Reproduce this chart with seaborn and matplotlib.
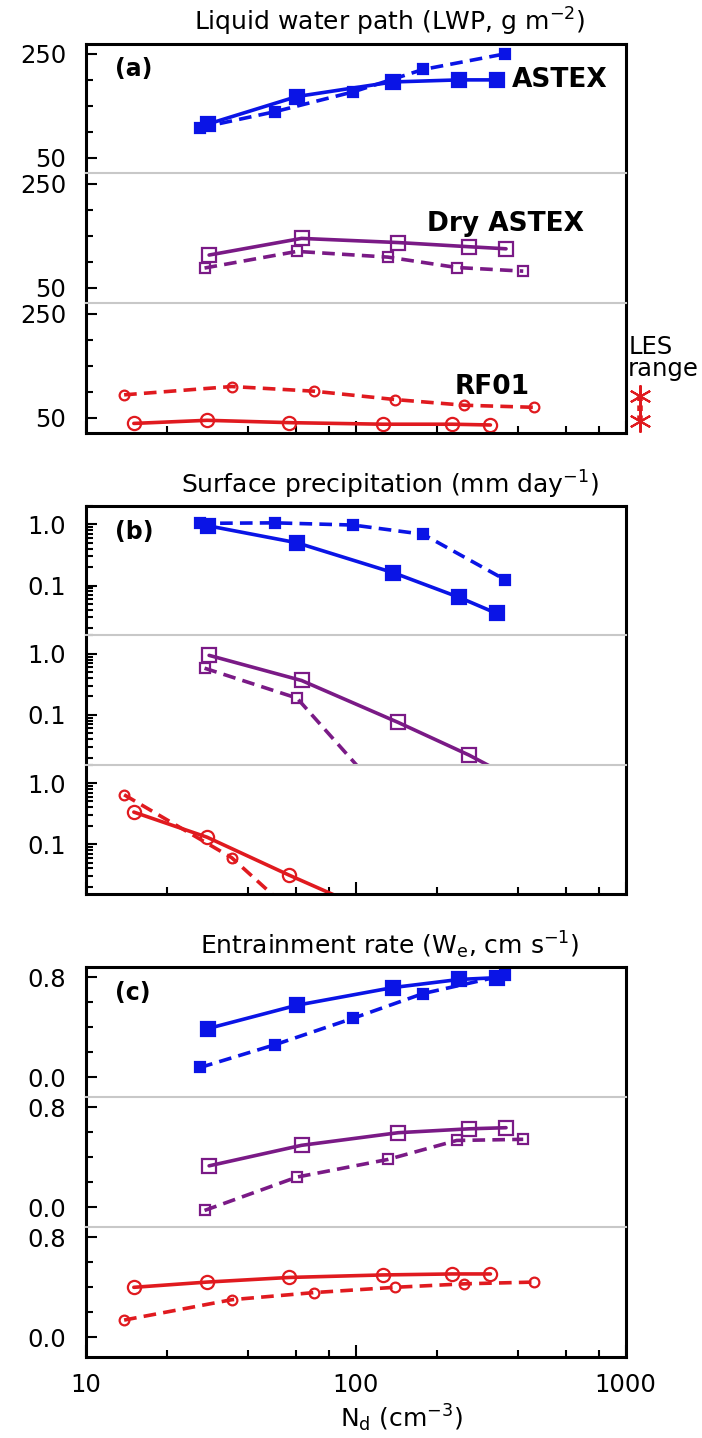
import numpy as np
import seaborn as sns
import matplotlib.pyplot as plt
from matplotlib.ticker import LogLocator, NullFormatter

sns.set_style("white")
plt.rcParams['font.family'] = ['DejaVu Sans']
plt.rcParams.update({'text.color': 'black', 'axes.labelcolor': 'black',
                     'xtick.color': 'black', 'ytick.color': 'black'})

# droplet number (cm-3) for each run set, solid = one model, dashed = the other
astex_nd = [28.4, 60.7, 137.5, 242, 333]
astex_nd_d = [26.6, 50.5, 98.1, 177.8, 357.5]
dry_nd = [28.7, 63.1, 144, 263, 361]
dry_nd_d = [27.6, 60.7, 131.8, 237, 418]
rf01_nd = [15.1, 28.2, 56.9, 125.9, 228, 316]
rf01_nd_d = [13.9, 34.8, 70.3, 139.6, 253, 459]

# (a) LWP, g m-2
astex_lwp = [115, 168, 196, 200, 200]
astex_lwp_d = [108, 139, 177, 220, 250]
dry_lwp = [113, 145, 137, 129, 125]
dry_lwp_d = [88, 120, 109, 89, 82]
rf01_lwp = [39, 45, 40.5, 37.5, 37.5, 36]
rf01_lwp_d = [94, 110, 101, 85, 74, 70]
les_nd = 1130
les_lwp = [43, 92]

# (b) surface precipitation, mm/day
astex_pr = [0.95, 0.50, 0.163, 0.064, 0.035]
astex_pr_d = [1.04, 1.06, 0.975, 0.69, 0.125]
dry_pr = [0.94, 0.365, 0.075, 0.022, 0.0105]
dry_pr_d = [0.58, 0.188, 0.004, 0.0015, 0.0008]
rf01_pr = [0.335, 0.13, 0.031, 0.0066, 0.002, 0.001]
rf01_pr_d = [0.644, 0.06, 0.0036, 0.001, 0.0005, 0.0003]

# (c) entrainment rate, cm/s
astex_we = [0.39, 0.577, 0.718, 0.783, 0.797]
astex_we_d = [0.079, 0.262, 0.473, 0.67, 0.817]
dry_we = [0.332, 0.496, 0.597, 0.628, 0.637]
dry_we_d = [-0.025, 0.242, 0.383, 0.535, 0.544]
rf01_we = [0.40, 0.442, 0.479, 0.499, 0.507, 0.507]
rf01_we_d = [0.138, 0.301, 0.358, 0.40, 0.428, 0.442]

blue, purple, red = '#0a14e6', '#7a1a86', '#e01a1f'
sep = '#c8c8c8'

W, H = 702, 1438
fig = plt.figure(figsize=(W / 100, H / 100), dpi=100)
left, right = 85.5, 625.5


def strip_axes(top, bottom):
    h = (bottom - top) / 3
    axs = []
    for i in range(3):
        t = top + i * h
        axs.append(fig.add_axes([left / W, 1 - (t + h) / H, (right - left) / W, h / H]))
    return axs


def draw(ax, nd, vals, color, marker, size, filled, dashed):
    sns.lineplot(x=nd, y=vals, ax=ax, color=color, marker=marker, markersize=size,
                 markerfacecolor=color if filled else 'none', markeredgecolor=color,
                 markeredgewidth=1.6, linewidth=2.6,
                 linestyle=(0, (3.5, 2)) if dashed else '-', sort=False, estimator=None)


def style(axs, ylim, yticks, ylabels, yminor=None, log=False, xlabels=False):
    for i, ax in enumerate(axs):
        ax.set_xscale('log')
        ax.set_xlim(10, 1000)
        if log:
            ax.set_yscale('log')
        ax.set_ylim(*ylim)
        ax.set_yticks(yticks, ylabels)
        if log:
            ax.yaxis.set_minor_locator(LogLocator(subs=np.arange(2, 10)))
            ax.yaxis.set_minor_formatter(NullFormatter())
        else:
            ax.set_yticks(yminor, minor=True)
        ax.set_xlabel('')
        ax.set_ylabel('')
        ax.tick_params(axis='y', which='both', direction='in', left=True, right=False,
                       labelsize=17.5, pad=14, width=1.5)
        ax.tick_params(axis='y', which='major', length=8)
        ax.tick_params(axis='y', which='minor', length=5)
        for s in ax.spines.values():
            s.set_color('black')
            s.set_linewidth(2.2)
        if i > 0:
            ax.spines['top'].set_color(sep)
            ax.spines['top'].set_linewidth(1.5)
        if i < 2:
            ax.spines['bottom'].set_visible(False)
            ax.tick_params(axis='x', which='both', bottom=False, top=False, labelbottom=False)
        else:
            ax.set_xticks([10, 100, 1000], ['10', '100', '1000'] if xlabels else ['', '', ''])
            ax.set_xticks([20, 40, 60, 80, 200, 400, 600, 800], minor=True)
            ax.xaxis.set_minor_formatter(NullFormatter())
            ax.tick_params(axis='x', which='both', direction='in', bottom=True, top=False,
                           labelsize=17.5, pad=12, width=1.5)
            ax.tick_params(axis='x', which='major', length=9)
            ax.tick_params(axis='x', which='minor', length=5)


def panel(axs, ydata, tag, title):
    sets = [(astex_nd, astex_nd_d, blue, 's', True),
            (dry_nd, dry_nd_d, purple, 's', False),
            (rf01_nd, rf01_nd_d, red, 'o', False)]
    for ax, (nd, nd_d, c, m, filled), (v, v_d) in zip(axs, sets, ydata):
        draw(ax, nd_d, v_d, c, m, 7, filled, True)
        draw(ax, nd, v, c, m, 10 if filled else 9.5, filled, False)
    axs[0].text(0.055, 0.8, tag, transform=axs[0].transAxes, fontsize=17,
                fontweight='bold', va='center', ha='left')
    axs[0].set_title(title, x=0.564, pad=9, fontsize=18)


# (a) liquid water path
ax_a = strip_axes(43.5, 433.3)
panel(ax_a, [(astex_lwp, astex_lwp_d), (dry_lwp, dry_lwp_d), (rf01_lwp, rf01_lwp_d)],
      '(a)', 'Liquid water path (LWP, g m$^{-2}$)')
style(ax_a, (20, 270), [50, 250], ['50', '250'], yminor=[100, 150, 200])
ax_a[0].text(0.879, 0.72, 'ASTEX', transform=ax_a[0].transAxes, fontsize=19,
             fontweight='bold', ha='center', va='center')
ax_a[1].text(0.777, 0.61, 'Dry ASTEX', transform=ax_a[1].transAxes, fontsize=19,
             fontweight='bold', ha='center', va='center')
ax_a[2].text(0.753, 0.36, 'RF01', transform=ax_a[2].transAxes, fontsize=19,
             fontweight='bold', ha='center', va='center')
ax_a[2].plot([les_nd, les_nd], les_lwp, color=red, lw=4, ls=(0, (1.0, 0.8)), clip_on=False)
ax_a[2].plot([les_nd, les_nd], les_lwp, color=red, lw=0, marker=(6, 2, 0),
             markersize=16, markeredgewidth=1.5, clip_on=False)
ax_a[2].text(1.005, 0.58, 'LES\nrange', transform=ax_a[2].transAxes, fontsize=17.5,
             ha='left', va='center', linespacing=0.9)

# (b) surface precipitation
ax_b = strip_axes(506, 894)
panel(ax_b, [(astex_pr, astex_pr_d), (dry_pr, dry_pr_d), (rf01_pr, rf01_pr_d)],
      '(b)', 'Surface precipitation (mm day$^{-1}$)')
style(ax_b, (0.0153, 2.0), [0.1, 1.0], ['0.1', '1.0'], log=True)

# (c) entrainment rate
ax_c = strip_axes(966.7, 1356.7)
panel(ax_c, [(astex_we, astex_we_d), (dry_we, dry_we_d), (rf01_we, rf01_we_d)],
      '(c)', 'Entrainment rate (W$_\\mathrm{e}$, cm s$^{-1}$)')
style(ax_c, (-0.155, 0.885), [0.0, 0.8], ['0.0', '0.8'], yminor=[0.2, 0.4, 0.6], xlabels=True)
ax_c[2].set_xlabel('N$_\\mathrm{d}$ (cm$^{-3}$)', fontsize=18, x=0.586, labelpad=4)

fig.savefig('out.png', dpi=100)
